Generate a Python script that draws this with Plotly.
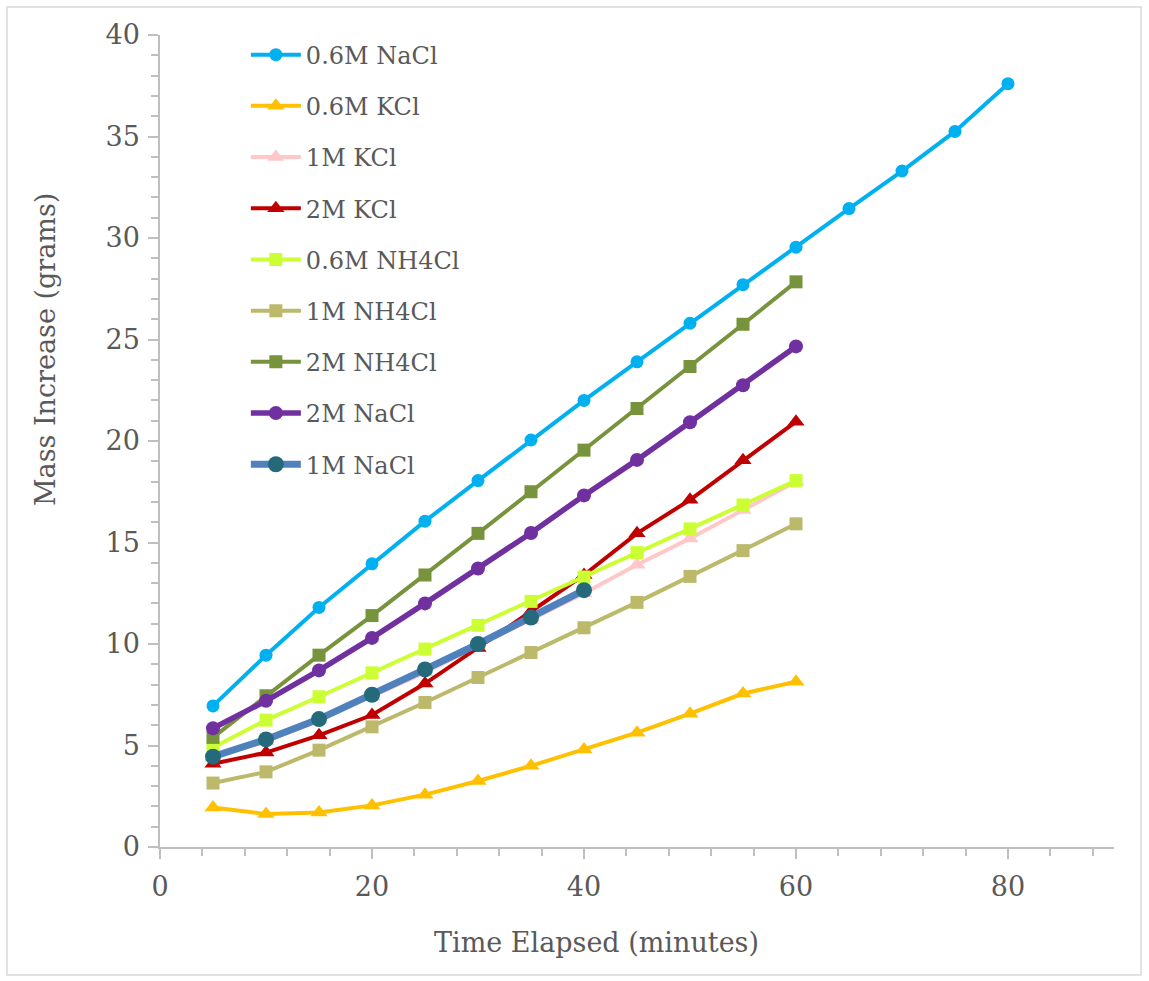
import plotly.graph_objects as go

# Time points (minutes)
time_long = [5, 10, 15, 20, 25, 30, 35, 40, 45, 50, 55, 60, 65, 70, 75, 80]
time_60 = [5, 10, 15, 20, 25, 30, 35, 40, 45, 50, 55, 60]
time_40 = [5, 10, 15, 20, 25, 30, 35, 40]

# Mass increase (grams) per solution
nacl_06 = [6.95, 9.45, 11.8, 13.95, 16.05, 18.05, 20.05, 22.0, 23.9, 25.8, 27.7, 29.55, 31.45, 33.3, 35.25, 37.6]
kcl_06 = [1.95, 1.62, 1.7, 2.05, 2.58, 3.25, 4.0, 4.8, 5.63, 6.57, 7.56, 8.14]
kcl_1 = [4.4, 5.2, 6.25, 7.4, 8.6, 9.9, 11.2, 12.5, 13.9, 15.2, 16.6, 18.0]
kcl_2 = [4.1, 4.65, 5.5, 6.5, 8.05, 9.8, 11.6, 13.4, 15.45, 17.1, 19.05, 20.95]
nh4cl_06 = [4.9, 6.25, 7.4, 8.58, 9.75, 10.92, 12.1, 13.3, 14.5, 15.67, 16.85, 18.05]
nh4cl_1 = [3.15, 3.7, 4.77, 5.92, 7.12, 8.35, 9.58, 10.8, 12.05, 13.33, 14.6, 15.92]
nh4cl_2 = [5.4, 7.45, 9.45, 11.4, 13.4, 15.45, 17.5, 19.55, 21.6, 23.67, 25.75, 27.84]
nacl_2 = [5.85, 7.2, 8.7, 10.3, 12.0, 13.72, 15.47, 17.32, 19.07, 20.92, 22.75, 24.66]
nacl_1 = [4.45, 5.3, 6.3, 7.5, 8.75, 10.0, 11.3, 12.65]

FONT = "DejaVu Serif"
TEXT = "#595959"
AXIS = "#bfbfbf"

series = [
    ("0.6M NaCl", time_long, nacl_06, "#00B0F0", "#00B0F0", 4, "circle", 13),
    ("0.6M KCl", time_60, kcl_06, "#FFC000", "#FFC000", 4, "triangle-up", 15),
    ("1M KCl", time_60, kcl_1, "#FFC7C7", "#FFC7C7", 4, "triangle-up", 15),
    ("2M KCl", time_60, kcl_2, "#C00000", "#C00000", 4, "triangle-up", 15),
    ("0.6M NH4Cl", time_60, nh4cl_06, "#CCFF33", "#CCFF33", 4, "square", 13),
    ("1M NH4Cl", time_60, nh4cl_1, "#BCB96A", "#BCB96A", 4, "square", 13),
    ("2M NH4Cl", time_60, nh4cl_2, "#77933C", "#77933C", 4, "square", 13),
    ("2M NaCl", time_60, nacl_2, "#7030A0", "#7030A0", 5.5, "circle", 14),
    ("1M NaCl", time_40, nacl_1, "#4F81BD", "#246A7B", 7, "circle", 16),
]

fig = go.Figure()
for i, (name, xs, ys, lc, mc, lw, sym, ms) in enumerate(series):
    fig.add_trace(go.Scatter(
        x=xs, y=ys, name=name, mode="lines+markers",
        line=dict(color=lc, width=lw),
        marker=dict(color=mc, symbol=sym, size=ms, line=dict(width=0)),
        legendgroup=f"g{i}",
    ))

axis_common = dict(
    showgrid=False, zeroline=False, showline=True,
    linecolor=AXIS, linewidth=1.5,
    ticks="outside", ticklen=10, tickwidth=1.5, tickcolor=AXIS,
    tickfont=dict(family=FONT, size=27, color=TEXT),
)

fig.update_xaxes(
    range=[0, 90], tick0=0, dtick=20,
    minor=dict(dtick=4, ticks="outside", ticklen=7, tickwidth=1.5, tickcolor=AXIS),
    ticklabelstandoff=5,
    **axis_common,
)
fig.update_yaxes(
    range=[0, 40], tick0=0, dtick=5,
    minor=dict(dtick=1, ticks="outside", ticklen=7, tickwidth=1.5, tickcolor=AXIS),
    ticklabelstandoff=3,
    **axis_common,
)

fig.update_layout(
    width=1149, height=981,
    margin=dict(l=160, r=35, t=35, b=134),
    plot_bgcolor="white", paper_bgcolor="white",
    font=dict(family=FONT, color=TEXT),
    legend=dict(
        x=0.09, y=1.003, xanchor="left", yanchor="top",
        font=dict(family=FONT, size=24, color=TEXT),
        bgcolor="rgba(255,255,255,0)",
        tracegroupgap=17, itemwidth=50,
    ),
    showlegend=True,
    annotations=[
        dict(text="Time Elapsed (minutes)", xref="paper", yref="paper",
             x=0.458, y=-0.118, xanchor="center", yanchor="middle",
             showarrow=False, font=dict(family=FONT, size=27, color=TEXT)),
        dict(text="Mass Increase (grams)", xref="paper", yref="paper",
             x=-0.1205, y=0.612, xanchor="center", yanchor="middle", textangle=-90,
             showarrow=False, font=dict(family=FONT, size=27, color=TEXT)),
    ],
    shapes=[dict(
        type="rect", xref="paper", yref="paper",
        x0=-0.1604, x1=1.0283, y0=-0.1576, y1=1.0345,
        line=dict(color="#d9d9d9", width=1.5), fillcolor="rgba(0,0,0,0)",
        layer="below",
    )],
)

fig.write_html("out.html")
